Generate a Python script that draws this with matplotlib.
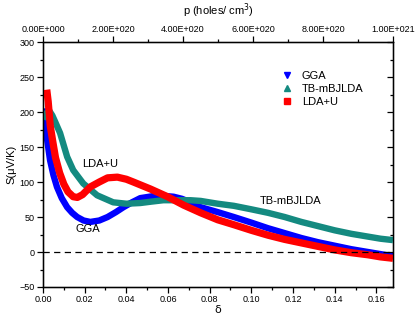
import matplotlib
matplotlib.use("Agg")
import matplotlib.pyplot as plt
from matplotlib.lines import Line2D
from matplotlib.ticker import MultipleLocator, FuncFormatter

plt.rcParams['font.family'] = ['Liberation Sans', 'DejaVu Sans']

# ---------------------------------------------------------------------------
# DATA
# ---------------------------------------------------------------------------
gga_d = [0.0, 0.001, 0.002, 0.0034, 0.005, 0.0067, 0.009, 0.0116, 0.014, 0.0164,
         0.0195, 0.0227, 0.027, 0.031, 0.035, 0.0386, 0.0427, 0.0467, 0.051, 0.055,
         0.0588, 0.0627, 0.0667, 0.0708, 0.0757, 0.0839, 0.0916, 0.100, 0.108, 0.116,
         0.124, 0.132, 0.140, 0.148, 0.156, 0.162, 0.168]
gga_s = [205, 185, 160, 131, 110, 93, 77, 64, 56, 50,
         45, 43, 45, 50, 57, 64, 71, 77, 79, 81,
         80, 79, 76, 71, 64, 57, 50, 42, 34, 27,
         20, 14, 9, 4, 0, -3, -6]

tb_d = [0.0, 0.0015, 0.003, 0.0045, 0.006, 0.0082, 0.010, 0.0116, 0.0145, 0.0193,
        0.026, 0.0337, 0.040, 0.0467, 0.052, 0.0578, 0.064, 0.0708, 0.0757, 0.0839,
        0.0916, 0.100, 0.108, 0.116, 0.124, 0.132, 0.140, 0.148, 0.156, 0.162, 0.168]
tb_s = [190, 198, 202, 195, 185, 170, 152, 136, 117, 98,
        81, 71, 69, 70, 72, 74, 74, 74, 73, 69,
        66, 61, 56, 50, 43, 37, 31, 26, 22, 19, 17]

ldau_d = [0.0018, 0.0025, 0.0035, 0.0048, 0.006, 0.008, 0.010, 0.012, 0.0145, 0.0165,
          0.019, 0.0227, 0.027, 0.031, 0.0357, 0.040, 0.0434, 0.0516, 0.0598, 0.0675,
          0.0757, 0.0839, 0.0916, 0.100, 0.108, 0.116, 0.124, 0.132, 0.140, 0.148,
          0.156, 0.162, 0.168]
ldau_s = [232, 215, 180, 156, 135, 113, 97, 86, 79, 78,
          82, 93, 100, 106, 107, 104, 100, 90, 79, 67,
          56, 46, 39, 31, 24, 18, 13, 8, 3, -1,
          -4, -7, -9]

c_gga = "#0000ff"
c_tb = "#148a80"
c_ldau = "#ff0000"

# ---------------------------------------------------------------------------
# PLOT
# ---------------------------------------------------------------------------
fig = plt.figure(figsize=(4.15, 3.14), dpi=100)
ax = fig.add_axes([0.1036, 0.086, 0.8434, 0.780])

ax.plot(gga_d, gga_s, c=c_gga, lw=4.6, solid_capstyle='butt', zorder=2)
ax.plot(tb_d, tb_s, c=c_tb, lw=4.6, solid_capstyle='butt', zorder=3)
ax.plot(ldau_d, ldau_s, c=c_ldau, lw=5.2, solid_capstyle='butt', zorder=4)
ax.axhline(0, color="black", lw=0.9, ls=(0, (5, 3.5)), zorder=5)

ax.set_xlim(0, 0.168)
ax.set_ylim(-50, 300)
ax.xaxis.set_major_locator(MultipleLocator(0.02))
ax.xaxis.set_minor_locator(MultipleLocator(0.01))
ax.yaxis.set_major_locator(MultipleLocator(50))
ax.yaxis.set_minor_locator(MultipleLocator(25))
ax.xaxis.set_major_formatter(FuncFormatter(lambda v, p: "%.2f" % v))
ax.tick_params(axis='both', which='both', labelsize=6.5, width=0.9, direction='out', pad=2)
ax.tick_params(which='major', length=4)
ax.tick_params(which='minor', length=2.5)
for sp in ax.spines.values():
    sp.set_linewidth(1.0)

ax.set_xlabel("δ", fontsize=8, family=['DejaVu Sans'])
ax.xaxis.set_label_coords(0.5, -0.075)
ax.set_ylabel("S(μV/K)", fontsize=8, labelpad=2)

ax.text(0.0275, 126, "LDA+U", fontsize=8, ha='center', va='center')
ax.text(0.0215, 33, "GGA", fontsize=8, ha='center', va='center')
ax.text(0.119, 73, "TB-mBJLDA", fontsize=8, ha='center', va='center')

# right axis: inward ticks, no labels
axr = ax.twinx()
axr.set_ylim(-50, 300)
axr.yaxis.set_major_locator(MultipleLocator(50))
axr.yaxis.set_minor_locator(MultipleLocator(25))
axr.tick_params(axis='y', which='both', direction='in', labelright=False, width=0.9)
axr.tick_params(which='major', length=4)
axr.tick_params(which='minor', length=2.5)

# top axis: hole concentration
ax2 = ax.twiny()
ax2.set_xlim(0, 1e21)
ax2.xaxis.set_major_locator(MultipleLocator(2e20))
ax2.xaxis.set_minor_locator(MultipleLocator(1e20))


def sci(v, pos):
    m, e = ("%.2E" % v).split("E")
    return "%sE%s%03d" % (m, e[0], abs(int(e)))


ax2.xaxis.set_major_formatter(FuncFormatter(sci))
ax2.tick_params(axis='x', which='both', labelsize=6.5, width=0.9, direction='out', pad=2)
ax2.tick_params(which='major', length=4)
ax2.tick_params(which='minor', length=2.5)
ax2.set_xlabel("p (holes/ cm$^3$)", fontsize=8, labelpad=7)

handles = [Line2D([], [], ls='none', marker='v', color=c_gga, ms=5),
           Line2D([], [], ls='none', marker='^', color=c_tb, ms=5),
           Line2D([], [], ls='none', marker='s', color=c_ldau, ms=4.5)]
ax.legend(handles, ["GGA", "TB-mBJLDA", "LDA+U"], loc='upper left',
          bbox_to_anchor=(0.66, 0.915), frameon=False, fontsize=8,
          handlelength=1.0, handletextpad=0.8, labelspacing=0.3, borderpad=0.2)

fig.savefig("out.png", dpi=100)
